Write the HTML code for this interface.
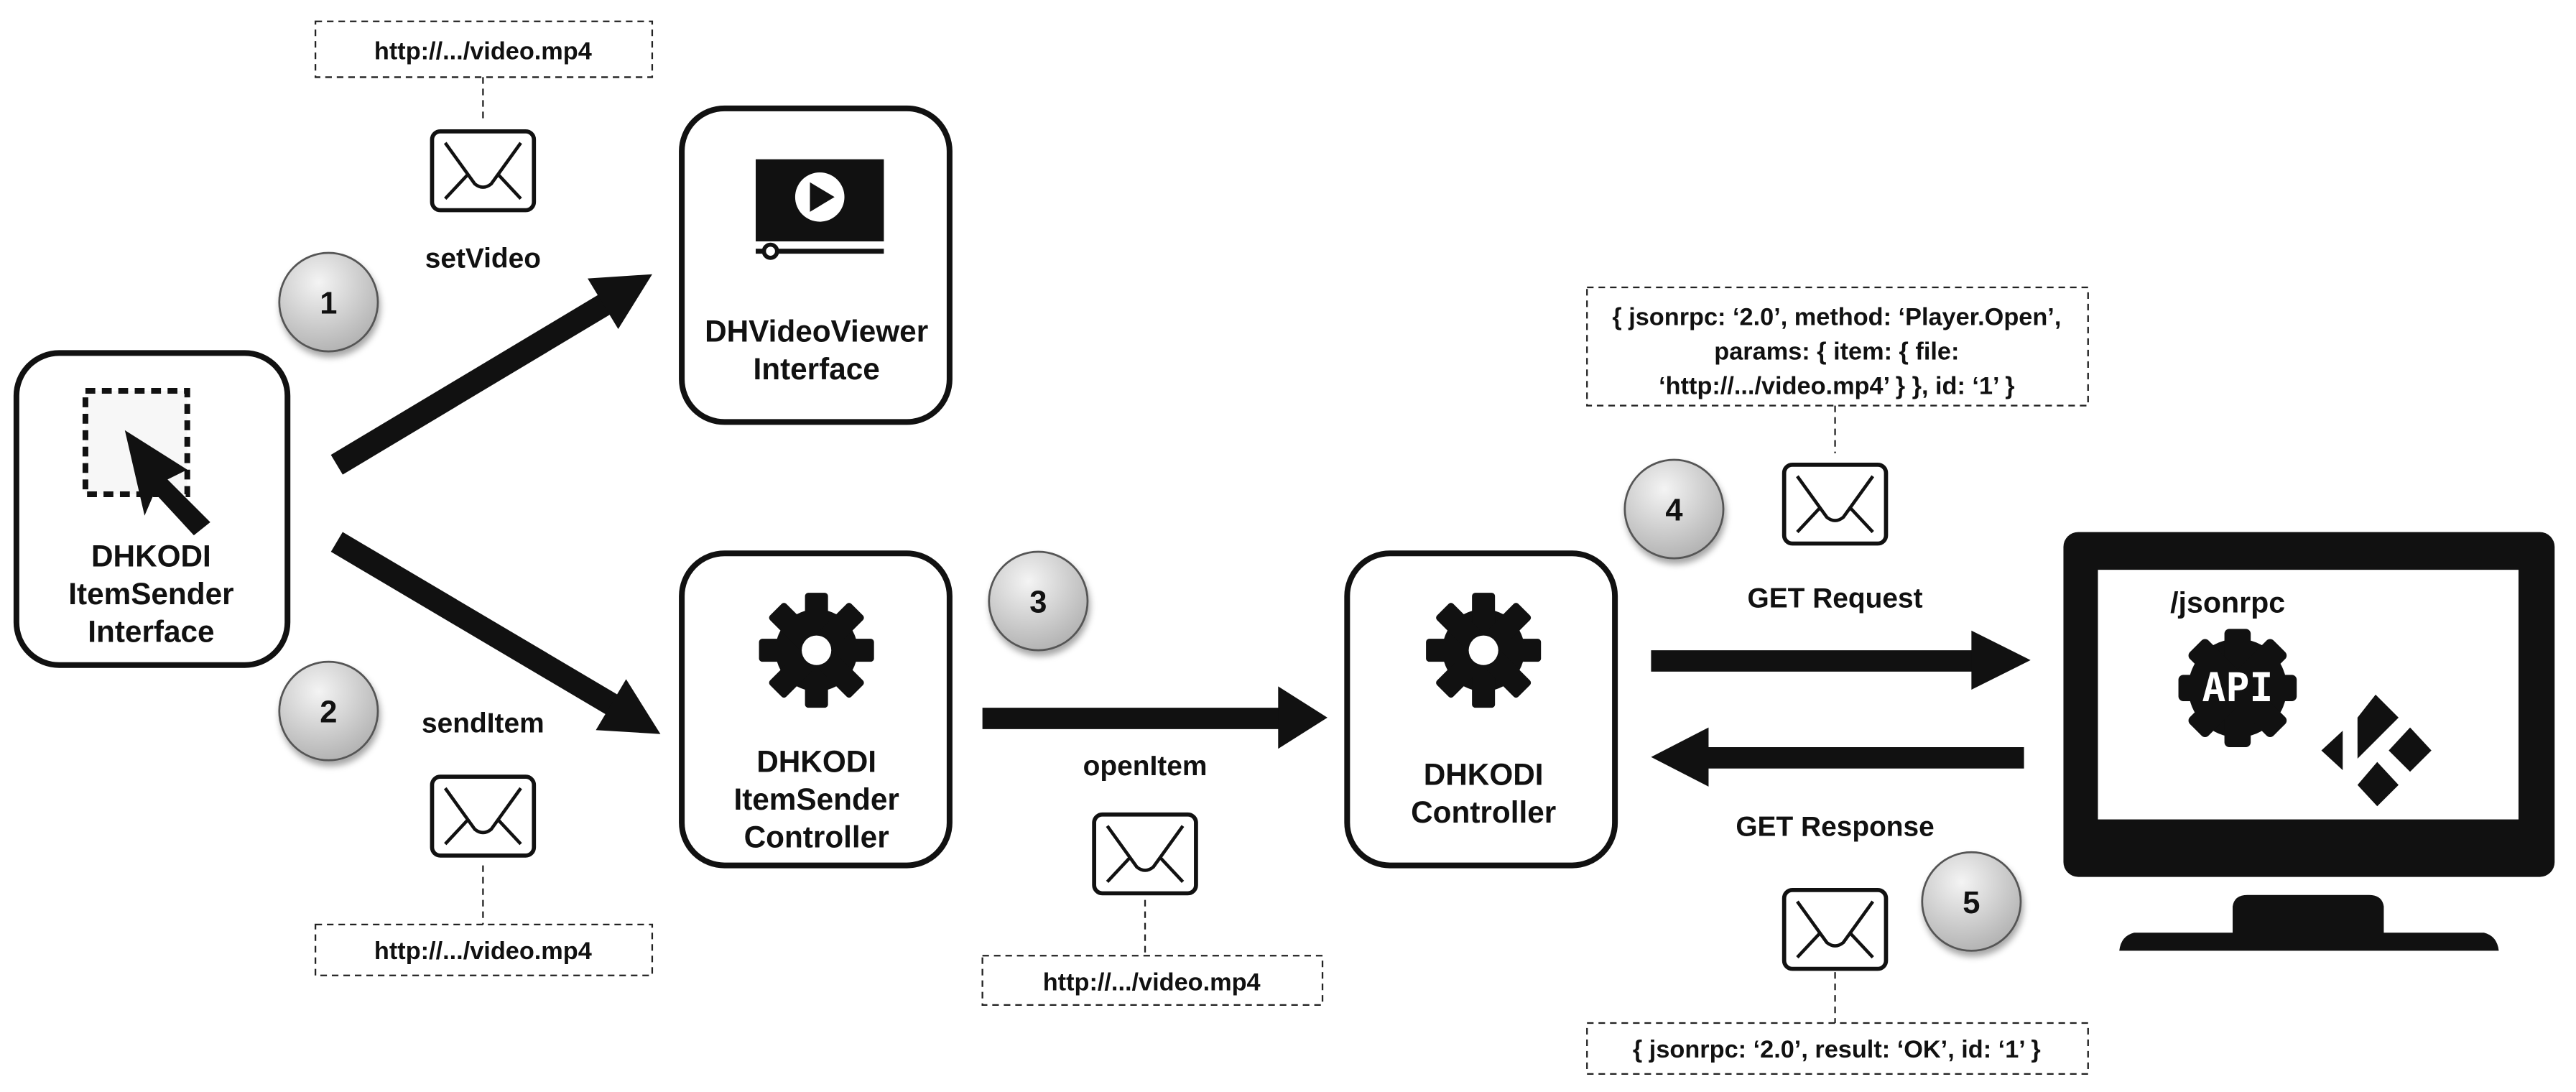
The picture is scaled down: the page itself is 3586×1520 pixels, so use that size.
<!DOCTYPE html>
<html><head><meta charset="utf-8"><style>
html,body{margin:0;padding:0;background:#fff;}
svg{display:block;}
text{font-family:"Liberation Sans Narrow","Liberation Sans",sans-serif;font-weight:bold;fill:#111;}
</style></head><body>
<svg width="3586" height="1520" viewBox="0 0 1568 665" preserveAspectRatio="none" xmlns="http://www.w3.org/2000/svg">
<defs>
<radialGradient id="cg" cx="0.4" cy="0.3" r="0.75">
<stop offset="0" stop-color="#f4f4f4"/><stop offset="1" stop-color="#b0b0b0"/>
</radialGradient>
<filter id="sh" x="-30%" y="-30%" width="160%" height="170%"><feDropShadow dx="1" dy="3" stdDeviation="2" flood-opacity="0.35"/></filter>
<g id="env"><rect x="-31" y="-24" width="62" height="48" rx="5" fill="#fff" stroke="#111" stroke-width="2.5"/><path d="M-23 -17 L-5 8 Q0 12 5 8 L23 -17 M-23 17 L-9 2 M23 17 L9 2" fill="none" stroke="#111" stroke-width="2"/></g>
<g id="gear"><g fill="#111">
<circle r="25"/>
<rect x="-7" y="-35" width="14" height="70" rx="2"/>
<rect x="-7" y="-35" width="14" height="70" rx="2" transform="rotate(45)"/>
<rect x="-7" y="-35" width="14" height="70" rx="2" transform="rotate(90)"/>
<rect x="-7" y="-35" width="14" height="70" rx="2" transform="rotate(135)"/>
</g><circle r="9" fill="#fff"/></g>
<g id="num"><circle r="30" fill="url(#cg)" stroke="#555" stroke-width="1.2" filter="url(#sh)"/></g>
</defs>

<g fill="none" stroke="#222" stroke-width="1" stroke-dasharray="4,3">
<rect x="192" y="13" width="205" height="34"/>
<line x1="294" y1="47" x2="294" y2="75"/>
<rect x="192" y="563" width="205" height="31"/>
<line x1="294" y1="527" x2="294" y2="563"/>
<rect x="598" y="582" width="207" height="30"/>
<line x1="697" y1="548" x2="697" y2="582"/>
<rect x="966" y="175" width="305" height="72"/>
<line x1="1117" y1="247" x2="1117" y2="276"/>
<rect x="966" y="623" width="305" height="31"/>
<line x1="1117" y1="592" x2="1117" y2="623"/>
</g>
<g font-size="15" text-anchor="middle">
<text x="294" y="36">http://.../video.mp4</text>
<text x="294" y="584">http://.../video.mp4</text>
<text x="701" y="603">http://.../video.mp4</text>
<text x="1118" y="198">{ jsonrpc: ‘2.0’, method: ‘Player.Open’,</text>
<text x="1118" y="219">params: { item: { file:</text>
<text x="1118" y="240">‘http://.../video.mp4’ } }, id: ‘1’ }</text>
<text x="1118" y="644">{ jsonrpc: ‘2.0’, result: ‘OK’,  id: ‘1’ }</text>
</g>

<use href="#env" x="294" y="104"/>
<use href="#env" x="294" y="497"/>
<use href="#env" x="697" y="520"/>
<use href="#env" x="1117" y="307"/>
<use href="#env" x="1117" y="566"/>

<g fill="#fff" stroke="#111" stroke-width="3.5">
<rect x="10" y="215" width="165" height="190" rx="26"/>
<rect x="415" y="66" width="163" height="191" rx="26"/>
<rect x="415" y="337" width="163" height="190" rx="26"/>
<rect x="820" y="337" width="163" height="190" rx="26"/>
</g>

<rect x="52" y="238" width="62" height="63" fill="#f7f7f7" stroke="#111" stroke-width="3.5" stroke-dasharray="6,4"/>
<polygon points="76,262 114,286 102,292 128,318 118,326 94,300 88,314" fill="#111"/>

<rect x="460" y="97" width="78" height="50" fill="#111"/>
<circle cx="499" cy="120" r="15" fill="#fff"/>
<polygon points="493,111 493,129 508,120" fill="#111"/>
<line x1="460" y1="153" x2="538" y2="153" stroke="#111" stroke-width="3"/>
<circle cx="469" cy="153" r="4" fill="#fff" stroke="#111" stroke-width="2.5"/>

<use href="#gear" x="497" y="396"/>
<use href="#gear" x="903" y="396"/>

<g font-size="18.5" text-anchor="middle">
<text x="92" y="345">DHKODI</text>
<text x="92" y="368">ItemSender</text>
<text x="92" y="391">Interface</text>
<text x="497" y="208">DHVideoViewer</text>
<text x="497" y="231">Interface</text>
<text x="497" y="470">DHKODI</text>
<text x="497" y="493">ItemSender</text>
<text x="497" y="516">Controller</text>
<text x="903" y="478">DHKODI</text>
<text x="903" y="501">Controller</text>
</g>

<g fill="#111">
<line x1="205" y1="283" x2="372" y2="183" stroke="#111" stroke-width="14"/>
<polygon points="397,167 376.3,200.4 357.7,169.6"/>
<line x1="205" y1="330" x2="374" y2="430" stroke="#111" stroke-width="14"/>
<polygon points="402,447 362.7,444.6 381.1,413.6"/>
<rect x="598" y="431" width="184" height="13"/>
<polygon points="778,418 808,437 778,456"/>
<rect x="1005" y="396" width="198" height="13"/>
<polygon points="1200,384 1236,402 1200,420"/>
<rect x="1038" y="455" width="194" height="13"/>
<polygon points="1040,443 1005,461 1040,479"/>
</g>

<g font-size="17" text-anchor="middle">
<text x="294" y="163">setVideo</text>
<text x="294" y="446">sendItem</text>
<text x="697" y="472">openItem</text>
<text x="1117" y="370">GET Request</text>
<text x="1117" y="509">GET Response</text>
</g>

<use href="#num" x="200" y="184"/>
<use href="#num" x="200" y="433"/>
<use href="#num" x="632" y="366"/>
<use href="#num" x="1019" y="310"/>
<use href="#num" x="1200" y="549"/>
<g font-size="19" text-anchor="middle">
<text x="200" y="191">1</text>
<text x="200" y="440">2</text>
<text x="632" y="373">3</text>
<text x="1019" y="317">4</text>
<text x="1200" y="556">5</text>
</g>

<rect x="1256" y="324" width="299" height="210" rx="9" fill="#111"/>
<rect x="1277" y="347" width="256" height="152" fill="#fff"/>
<path d="M1359 568 L1359 552 Q1360 545 1368 545 L1442 545 Q1450 545 1451 552 L1451 568 L1512 568 Q1520 570 1521 579 L1290 579 Q1291 570 1299 568 Z" fill="#111"/>
<text x="1321" y="373" font-size="18">/jsonrpc</text>
<g transform="translate(1362,419)">
<g fill="#111">
<circle r="30"/>
<rect x="-8" y="-36" width="16" height="72" rx="3"/>
<rect x="-8" y="-36" width="16" height="72" rx="3" transform="rotate(45)"/>
<rect x="-8" y="-36" width="16" height="72" rx="3" transform="rotate(90)"/>
<rect x="-8" y="-36" width="16" height="72" rx="3" transform="rotate(135)"/>
</g>
<text x="0" y="8" font-size="24" text-anchor="middle" style="fill:#fff;font-family:'DejaVu Sans Mono','Liberation Mono',monospace;font-weight:bold">API</text>
</g>
<g fill="#111">
<polygon points="1413,457 1426,445 1426,469"/>
<polygon points="1435,437 1446,423 1460,437 1435,462"/>
<polygon points="1467,443 1480,457 1467,470 1454,457"/>
<polygon points="1447,464 1460,478 1447,491 1435,478"/>
</g>
</svg>
</body></html>
